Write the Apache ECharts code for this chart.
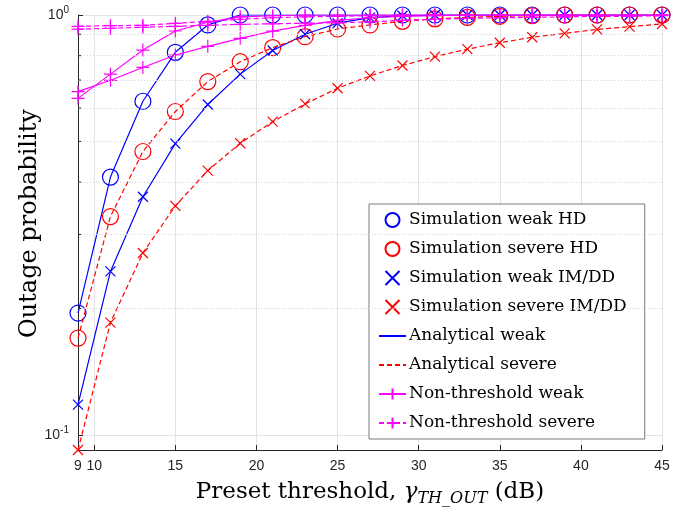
<!DOCTYPE html>
<html>
<head>
<meta charset="utf-8">
<script src="https://cdn.jsdelivr.net/npm/echarts@6/dist/echarts.min.js"></script>
<style>
  html, body { margin: 0; background: #fff; }
  #chart { width: 673px; height: 510px; }
</style>
</head>
<body>
<div id="chart"></div>
<script>
// preset threshold (dB)
const thresholds = [9, 11, 13, 15, 17, 19, 21, 23, 25, 27, 29, 31, 33, 35, 37, 39, 41, 43, 45];
// outage probability
const weakHD = [0.195, 0.411, 0.623, 0.815, 0.947, 1, 1, 1, 1, 1, 1, 1, 1, 1, 1, 1, 1, 1, 1];
const severeHD = [0.170, 0.331, 0.473, 0.589, 0.694, 0.774, 0.836, 0.888, 0.926, 0.947, 0.966, 0.979, 0.987, 0.993, 0.996, 1, 1, 1, 1];
const weakIMDD = [0.118, 0.245, 0.369, 0.494, 0.612, 0.723, 0.823, 0.900, 0.956, 0.986, 0.996, 1, 1, 1, 1, 1, 1, 1, 1];
const severeIMDD = [0.092, 0.185, 0.271, 0.351, 0.426, 0.495, 0.557, 0.614, 0.669, 0.716, 0.758, 0.796, 0.829, 0.859, 0.885, 0.904, 0.924, 0.938, 0.952];
const nonThWeak1 = [0.657, 0.699, 0.750, 0.803, 0.842, 0.880, 0.915, 0.945, 0.971, 0.985, 0.993, 0.996, 1, 1, 1, 1, 1, 1, 1];
const nonThWeak2 = [0.633, 0.723, 0.825, 0.916, 0.961, 0.990, 0.996, 1, 1, 1, 1, 1, 1, 1, 1, 1, 1, 1, 1];
const nonThSevere1 = [0.940, 0.943, 0.945, 0.955, 0.966, 0.977, 0.985, 0.990, 0.993, 0.996, 1, 1, 1, 1, 1, 1, 1, 1, 1];
const nonThSevere2 = [0.925, 0.930, 0.935, 0.940, 0.945, 0.950, 0.953, 0.956, 0.958, 0.963, 0.971, 0.977, 0.982, 0.985, 0.987, 0.990, 0.993, 0.993, 0.996];
// minor log ticks
const minorTicks = [0.2, 0.3, 0.4, 0.5, 0.6, 0.7, 0.8, 0.9];

const BLUE = '#0000ff', RED = '#ff0000', MAG = '#ff00ff';
const SERIF = '"DejaVu Serif", serif';
const SANS = '"Liberation Sans", Arial, sans-serif';
const CROSS = 'path://M0,0L10,10M10,0L0,10';
const PLUS = 'path://M5,0L5,10M0,5L10,5';

function pairs(arr) {
  return thresholds.map((t, i) => [t, arr[i]]);
}

function markers(name, arr, symbol, size, color) {
  return {
    name: name,
    type: 'scatter',
    data: pairs(arr),
    symbol: symbol,
    symbolSize: size,
    itemStyle: { color: 'rgba(0,0,0,0)', borderColor: color, borderWidth: 1.2, opacity: 1 },
    z: 3
  };
}

function curve(name, arr, color, dashed, withPlus) {
  return {
    name: name,
    type: 'line',
    data: pairs(arr),
    symbol: withPlus ? PLUS : 'none',
    symbolSize: 13,
    showSymbol: !!withPlus,
    lineStyle: { color: color, width: 1.2, type: dashed ? [5, 3] : 'solid' },
    itemStyle: withPlus
      ? { color: 'rgba(0,0,0,0)', borderColor: color, borderWidth: 1.2 }
      : { color: 'rgba(0,0,0,0)', borderColor: 'rgba(0,0,0,0)', borderWidth: 0 },
    z: 4
  };
}

let chart = echarts.init(document.getElementById('chart'));
let option = {
  animation: false,
  grid: { left: 78, right: 11, top: 15, bottom: 60, outerBoundsMode: 'none' },
  legend: {
    orient: 'vertical',
    left: 369,
    top: 204,
    padding: [6, 18, 6, 9],
    itemWidth: 27,
    itemHeight: 14,
    itemGap: 9,
    backgroundColor: '#fff',
    borderColor: '#7a7a7a',
    borderWidth: 1,
    textStyle: { fontFamily: SERIF, fontSize: 17, color: '#000', lineHeight: 20, padding: [0, 0, 0, -2] },
    data: ['Simulation weak HD', 'Simulation severe HD', 'Simulation weak IM/DD', 'Simulation severe IM/DD',
      'Analytical weak', 'Analytical severe', 'Non-threshold weak', 'Non-threshold severe']
  },
  xAxis: {
    type: 'value',
    min: 9,
    max: 45,
    splitNumber: 8,
    name: '{a|Preset threshold, }{g|γ}{s|TH_OUT}{a| (dB)}',
    nameLocation: 'middle',
    nameGap: 27,
    nameMoveOverlap: false,
    nameTextStyle: {
      color: '#000',
      rich: {
        a: { fontFamily: SERIF, fontSize: 23, color: '#000', lineHeight: 30 },
        g: { fontFamily: SERIF, fontSize: 23, fontStyle: 'italic', color: '#000', lineHeight: 30 },
        s: { fontFamily: SERIF, fontSize: 16, fontStyle: 'italic', color: '#000', lineHeight: 21, verticalAlign: 'bottom' }
      }
    },
    axisLine: { lineStyle: { color: '#262626', width: 1 } },
    axisTick: { inside: true, length: 5, lineStyle: { color: '#262626' } },
    axisLabel: { color: '#262626', fontFamily: SANS, fontSize: 14, margin: 9 },
    splitLine: { show: true, lineStyle: { color: '#e3e3e3', width: 1 } }
  },
  yAxis: {
    type: 'log',
    logBase: 10,
    min: 0.092,
    max: 1,
    name: 'Outage probability',
    nameLocation: 'middle',
    nameGap: 36,
    nameMoveOverlap: false,
    nameTextStyle: { fontFamily: SERIF, fontSize: 24, color: '#000', padding: [0, 0, 0, 18] },
    axisLine: { show: true, lineStyle: { color: '#262626', width: 1 } },
    axisTick: { show: true, inside: true, length: 5, lineStyle: { color: '#262626' } },
    axisLabel: {
      color: '#262626',
      margin: 9,
      formatter: function (v) {
        if (Math.abs(v - 1) < 1e-6) return '{b|10}{e|0}';
        if (Math.abs(v - 0.1) < 1e-6) return '{b|10}{e|-1}';
        return '';
      },
      rich: {
        b: { fontFamily: SANS, fontSize: 14, color: '#262626' },
        e: { fontFamily: SANS, fontSize: 10, color: '#262626', padding: [0, 0, 10, 0] }
      }
    },
    splitLine: { show: true, lineStyle: { color: '#e3e3e3', width: 1 } }
  },
  series: [
    {
      name: 'minor grid',
      type: 'line',
      data: [],
      silent: true,
      markLine: {
        silent: true,
        symbol: ['none', 'none'],
        label: { show: false },
        lineStyle: { color: '#d4d4d4', type: [1, 2], width: 1 },
        data: minorTicks.map(v => ({ yAxis: v }))
      }
    },
    {
      name: 'minor ticks',
      type: 'scatter',
      data: minorTicks.map(v => [thresholds[0], v]),
      symbol: 'rect',
      symbolSize: [3, 1],
      symbolOffset: [1.5, 0],
      itemStyle: { color: '#262626', opacity: 1 },
      silent: true,
      z: 5
    },
    markers('Simulation weak HD', weakHD, 'circle', 16, BLUE),
    markers('Simulation severe HD', severeHD, 'circle', 16, RED),
    markers('Simulation weak IM/DD', weakIMDD, CROSS, 10, BLUE),
    markers('Simulation severe IM/DD', severeIMDD, CROSS, 10, RED),
    curve('Analytical weak', weakHD, BLUE, false, false),
    curve('Analytical weak', weakIMDD, BLUE, false, false),
    curve('Analytical severe', severeHD, RED, true, false),
    curve('Analytical severe', severeIMDD, RED, true, false),
    curve('Non-threshold weak', nonThWeak1, MAG, false, true),
    curve('Non-threshold weak', nonThWeak2, MAG, false, true),
    curve('Non-threshold severe', nonThSevere1, MAG, true, true),
    curve('Non-threshold severe', nonThSevere2, MAG, true, true)
  ]
};
chart.setOption(option);
</script>
</body>
</html>
